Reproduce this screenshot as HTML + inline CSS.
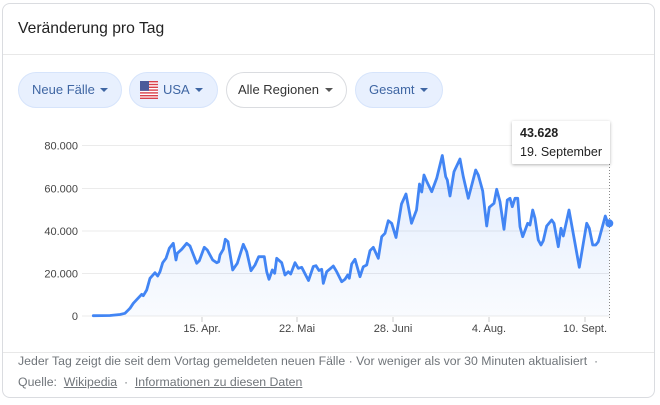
<!DOCTYPE html>
<html><head><meta charset="utf-8">
<style>
*{margin:0;padding:0;box-sizing:border-box}
html,body{width:660px;height:405px;background:#fff;overflow:hidden;font-family:"Liberation Sans",Arial,sans-serif}
.card{position:absolute;left:2px;top:3px;width:653px;height:395px;border:1px solid #dadce0;border-radius:8px;background:#fff}
.title{position:absolute;left:18px;top:20px;font-size:15.7px;color:#222;white-space:nowrap}
.sep1{position:absolute;left:3px;top:54px;width:651px;height:1px;background:#e8e8e8}
.sep2{position:absolute;left:3px;top:352px;width:651px;height:1px;background:#e8e8e8}
.btn{position:absolute;top:72px;height:36px;border-radius:18px;font-size:13px;line-height:34px;white-space:nowrap}
.blue{background:#e8f0fe;border:1px solid #d6e4fb;color:#3f66a3}
.white{background:#fff;border:1px solid #dadce0;color:#333}
.arr{position:absolute;top:15px;width:0;height:0;border-left:4px solid transparent;border-right:4px solid transparent;border-top:4px solid currentColor}
.foot{position:absolute;left:18px;font-size:12.3px;color:#70757a;white-space:nowrap}
.foot u{text-decoration:underline;color:#70757a}
</style></head><body>
<div class="card"></div>
<div class="title">Veränderung pro Tag</div>
<div class="sep1"></div>

<div class="btn blue" style="left:18px;width:104px"><span style="position:absolute;left:13px">Neue Fälle</span><span class="arr" style="left:81px"></span></div>
<div class="btn blue" style="left:129px;width:89px">
<svg style="position:absolute;left:10px;top:8px" width="18" height="18" viewBox="0 0 18 18">
<rect x="0" y="0" width="18" height="18" rx="2" fill="#fff"/>
<g fill="#d9414b"><rect x="0" y="0" width="18" height="1.4"/><rect x="0" y="2.8" width="18" height="1.4"/><rect x="0" y="5.6" width="18" height="1.4"/><rect x="0" y="8.4" width="18" height="1.4"/><rect x="0" y="11.2" width="18" height="1.4"/><rect x="0" y="14" width="18" height="1.4"/><rect x="0" y="16.6" width="18" height="1.4"/></g>
<rect x="0" y="0" width="9" height="9.8" fill="#4a5a9a"/>
</svg>
<span style="position:absolute;left:33px">USA</span><span class="arr" style="left:65px"></span></div>
<div class="btn white" style="left:226px;width:121px"><span style="position:absolute;left:11px">Alle Regionen</span><span class="arr" style="left:98px;border-top-color:#555"></span></div>
<div class="btn blue" style="left:355px;width:88px"><span style="position:absolute;left:13px">Gesamt</span><span class="arr" style="left:64px"></span></div>

<svg style="position:absolute;left:0;top:0" width="660" height="405" viewBox="0 0 660 405">
<defs>
<linearGradient id="g" x1="0" y1="0" x2="0" y2="1">
<stop offset="0" stop-color="#4285f4" stop-opacity="0.16"/>
<stop offset="1" stop-color="#4285f4" stop-opacity="0.03"/>
</linearGradient>
</defs>
<g stroke="#ebebeb" stroke-width="1">
<line x1="82" y1="145.5" x2="610" y2="145.5"/>
<line x1="82" y1="188.5" x2="610" y2="188.5"/>
<line x1="82" y1="231" x2="610" y2="231"/>
<line x1="82" y1="273.5" x2="610" y2="273.5"/>
<line x1="82" y1="316" x2="610" y2="316"/>
</g>
<g stroke="#ccc" stroke-width="1">
<line x1="202" y1="317" x2="202" y2="322"/>
<line x1="297" y1="317" x2="297" y2="322"/>
<line x1="393" y1="317" x2="393" y2="322"/>
<line x1="489" y1="317" x2="489" y2="322"/>
<line x1="585" y1="317" x2="585" y2="322"/>
</g>
<g font-family="Liberation Sans, Arial, sans-serif" font-size="11" fill="#444" text-anchor="end">
<text x="78" y="149.5">80.000</text>
<text x="78" y="192.5">60.000</text>
<text x="78" y="235">40.000</text>
<text x="78" y="277.5">20.000</text>
<text x="78" y="320">0</text>
</g>
<g font-family="Liberation Sans, Arial, sans-serif" font-size="11" fill="#444" text-anchor="middle">
<text x="202" y="332">15. Apr.</text>
<text x="297" y="332">22. Mai</text>
<text x="393" y="332">28. Juni</text>
<text x="489" y="332">4. Aug.</text>
<text x="585" y="332">10. Sept.</text>
</g>
<polygon fill="url(#g)" points="93.3,316 93.3,315.7 110,315.5 120,314.5 125,313.3 130,308.3 133.3,303.3 141.7,294.3 143.3,295.7 146.7,290 150,278.3 155,272.7 157.7,276 160,271.7 162.7,262.7 166,258.3 169.3,248.3 173.3,243.3 176,260 177.3,253.3 181.7,249.3 186.7,243.3 190,246 196.7,263.3 199.3,260.7 204.3,247.3 207.3,250 212.7,260 216.7,262.7 218.7,261.7 220,255 223.3,249.3 225.3,239.3 228,241.7 232.7,270 237.3,263.3 243.3,244.3 246.7,251.7 251,270.7 255,265 258.7,256.7 264.3,256.7 266.7,271.7 269,279.3 272.3,270 274.7,273.3 276.7,258.3 281.7,262.7 285,275 288.3,271.7 290.7,274 295,262.7 298.3,268.3 301.7,267.3 308.5,280.5 313.3,266.5 316,265.7 319,270.5 321.7,269.3 323.3,283.3 326.7,271.7 330.7,268.3 333.3,266 336.7,271.7 341.7,281.7 345,279.3 347.7,275 349.3,278.3 351.7,264 355,259.3 360,276.7 363.3,266.7 366.7,265 370,250.7 373.3,247.3 378.3,258.3 381.7,236.7 385,233.3 388.3,220.7 391.7,223.3 396,237.5 401.5,204 406,194 411.5,223.3 416.5,210 419.5,184 421.7,192 424,175 427,182 431.7,191.7 436.7,178.3 442.3,155.5 445.7,176.7 447.3,180 450,196 454,171.7 460,159 463.3,176.7 468.3,198.3 475.7,170 478.3,175 482.7,191 486.7,226 489.3,207.3 494,203.3 496.7,189.3 500,201.7 504,229.3 507.3,200 510,198.3 512.3,206.7 515,198.3 517.7,198.3 520,226.7 522.7,236.7 527.7,223.3 530,225 532.7,210 535,218.3 538.3,240 541,245 543.3,240.7 546.7,226 551.7,220 554,223.3 558.3,246.7 561,228.3 563.3,236 569,210 575,243.3 579.3,267.3 583.3,243.3 586.7,223.3 589.3,228.3 592.7,245 595.7,245 598.3,241.7 605.3,216 607.3,221.7 609.3,223.3 609.3,316"/>
<line x1="609.5" y1="164" x2="609.5" y2="318" stroke="#888" stroke-width="1" stroke-dasharray="1,2"/>
<polyline fill="none" stroke="#4285f4" stroke-width="2.8" stroke-linejoin="round" stroke-linecap="round" points="93.3,315.7 110,315.5 120,314.5 125,313.3 130,308.3 133.3,303.3 141.7,294.3 143.3,295.7 146.7,290 150,278.3 155,272.7 157.7,276 160,271.7 162.7,262.7 166,258.3 169.3,248.3 173.3,243.3 176,260 177.3,253.3 181.7,249.3 186.7,243.3 190,246 196.7,263.3 199.3,260.7 204.3,247.3 207.3,250 212.7,260 216.7,262.7 218.7,261.7 220,255 223.3,249.3 225.3,239.3 228,241.7 232.7,270 237.3,263.3 243.3,244.3 246.7,251.7 251,270.7 255,265 258.7,256.7 264.3,256.7 266.7,271.7 269,279.3 272.3,270 274.7,273.3 276.7,258.3 281.7,262.7 285,275 288.3,271.7 290.7,274 295,262.7 298.3,268.3 301.7,267.3 308.5,280.5 313.3,266.5 316,265.7 319,270.5 321.7,269.3 323.3,283.3 326.7,271.7 330.7,268.3 333.3,266 336.7,271.7 341.7,281.7 345,279.3 347.7,275 349.3,278.3 351.7,264 355,259.3 360,276.7 363.3,266.7 366.7,265 370,250.7 373.3,247.3 378.3,258.3 381.7,236.7 385,233.3 388.3,220.7 391.7,223.3 396,237.5 401.5,204 406,194 411.5,223.3 416.5,210 419.5,184 421.7,192 424,175 427,182 431.7,191.7 436.7,178.3 442.3,155.5 445.7,176.7 447.3,180 450,196 454,171.7 460,159 463.3,176.7 468.3,198.3 475.7,170 478.3,175 482.7,191 486.7,226 489.3,207.3 494,203.3 496.7,189.3 500,201.7 504,229.3 507.3,200 510,198.3 512.3,206.7 515,198.3 517.7,198.3 520,226.7 522.7,236.7 527.7,223.3 530,225 532.7,210 535,218.3 538.3,240 541,245 543.3,240.7 546.7,226 551.7,220 554,223.3 558.3,246.7 561,228.3 563.3,236 569,210 575,243.3 579.3,267.3 583.3,243.3 586.7,223.3 589.3,228.3 592.7,245 595.7,245 598.3,241.7 605.3,216 607.3,221.7 609.3,223.3"/>
<circle cx="609.3" cy="223.3" r="4" fill="#4285f4"/>
</svg>

<div style="position:absolute;left:512px;top:121px;width:98px;height:43px;background:#fff;box-shadow:0 1px 3px rgba(0,0,0,0.3);border-radius:1px"></div>
<div style="position:absolute;left:520px;top:126px;font-size:12.5px;font-weight:bold;color:#222;white-space:nowrap">43.628</div>
<div style="position:absolute;left:520px;top:145px;font-size:12.5px;color:#222;white-space:nowrap">19. September</div>

<div class="sep2"></div>
<div class="foot" style="top:354px">Jeder Tag zeigt die seit dem Vortag gemeldeten neuen Fälle · Vor weniger als vor 30 Minuten aktualisiert &nbsp;·</div>
<div class="foot" style="top:375px">Quelle: &nbsp;<u>Wikipedia</u> &nbsp;· &nbsp;<u>Informationen zu diesen Daten</u></div>
</body></html>
